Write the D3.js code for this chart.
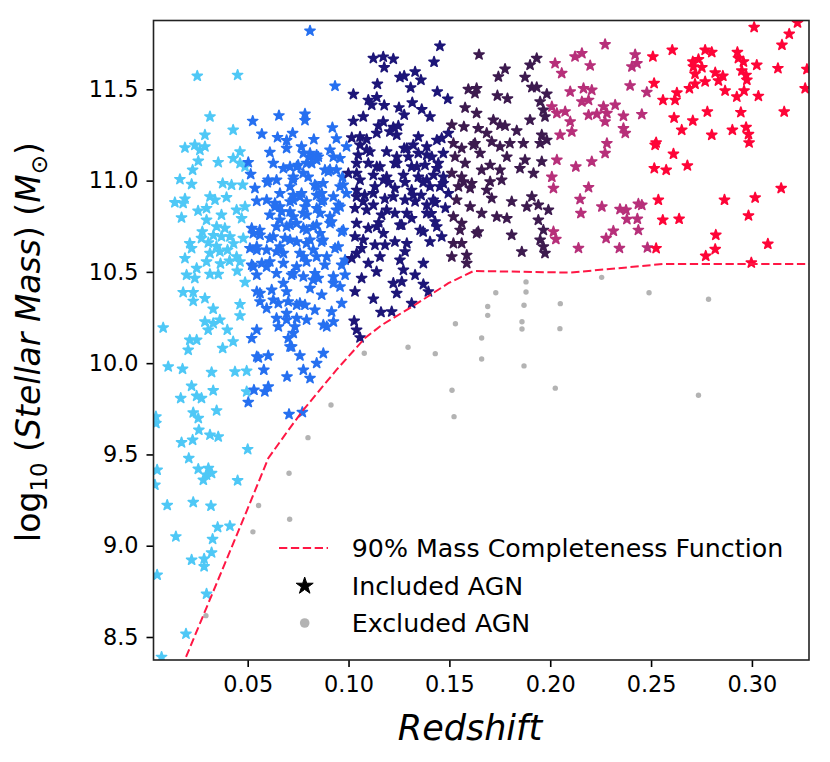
<!DOCTYPE html>
<html>
<head>
<meta charset="utf-8">
<script src="https://cdn.jsdelivr.net/npm/d3@7"></script>
<style>
  body { margin: 0; background: #fff; }
  text { font-family: "DejaVu Sans", sans-serif; }
</style>
</head>
<body>
<div id="chart"></div>
<script>
// Redshift bins, colours and tick values
var binColors = ["#4fc8f6", "#2670f0", "#1d1678", "#3d1b4f", "#b7307a", "#fe0538"];
var xTicks = [0.05, 0.10, 0.15, 0.20, 0.25, 0.30];
var yTicks = [8.5, 9.0, 9.5, 10.0, 10.5, 11.0, 11.5];

// Included AGN [redshift, log10 M*], one array per redshift bin
var bin0 = [[0.025,11.573],[0.045,11.578],[0.0313,11.35],[0.0428,11.277],[0.0288,11.25],[0.0189,11.18],[0.0238,11.195],[0.0288,11.186],[0.0263,11.167],[0.0462,11.158],[0.0354,11.10],[0.0255,11.107],[0.0428,11.122],[0.0462,11.095],[0.0227,11.058],[0.0164,11.007],[0.0222,10.98],[0.0376,10.985],[0.042,10.976],[0.0475,10.976],[0.0189,10.90],[0.0313,10.912],[0.0395,10.908],[0.0487,11.076],
  [0.0139,10.88],[0.018,10.876],[0.0172,10.797],[0.0254,10.834],[0.0296,10.848],[0.0338,10.894],[0.037,10.812],[0.0296,10.784],[0.0346,10.748],[0.0387,10.739],[0.0445,10.839],[0.0487,10.857],[0.047,10.793],[0.0412,10.693],[0.0478,10.684],[0.037,10.693],[0.0271,10.684],[0.0213,10.656],[0.0222,10.629],[0.0313,10.602],[0.0362,10.611],[0.0445,10.583],[0.0462,10.556],[0.0189,10.574],[0.0296,10.556],[0.0247,10.52],[0.0197,10.483],[0.0238,10.465],[0.0313,10.487],[0.0354,10.487],[0.0448,10.505],[0.0487,10.443],[0.018,10.388],[0.023,10.388],[0.023,10.34],[0.0288,10.355],[0.0462,10.322],[0.0329,10.297],[0.0462,10.26],[0.0081,10.194],[0.0288,10.227],[0.0329,10.218],[0.0362,10.237],[0.0304,10.182],[0.0399,10.182],[0.0213,10.127],[0.0247,10.127],[0.0205,10.072],[0.0428,10.118],[0.0376,10.082],[0.0106,9.981],[0.0177,9.968],[0.0321,9.95],[0.0437,9.953],[0.0495,9.957],
  [0.0305,10.66],[0.0345,10.64],[0.040,10.62],[0.043,10.655],[0.0275,10.72],[0.033,10.70],[0.041,10.56],[0.0365,10.545],
  [0.0222,9.875],[0.0168,9.808],[0.0247,9.82],[0.0271,9.808],[0.0329,9.85],[0.0495,9.844],[0.023,9.729],[0.0255,9.698],[0.0346,9.74],[0.0045,9.707],[0.0045,9.671],[0.0258,9.634],[0.0313,9.607],[0.0354,9.597],[0.0172,9.565],[0.0227,9.579],[0.05,9.528],[0.0208,9.479],[0.0255,9.42],[0.0305,9.424],[0.0296,9.388],[0.028,9.36],[0.0321,9.397],[0.0051,9.415],[0.004,9.333],[0.045,9.357],[0.0101,9.222],[0.023,9.238],[0.0318,9.218],[0.0351,9.101],[0.0412,9.108],[0.0144,9.05],[0.0326,9.036],[0.0321,8.962],[0.0222,8.922],[0.0284,8.928],[0.0284,8.886],[0.0051,8.84],[0.0296,8.736],[0.0194,8.517],[0.0073,8.39]];

var bin1 = [[0.0809,11.82],[0.0525,11.326],[0.0655,11.356],[0.0784,11.365],[0.0784,11.33],[0.057,11.255],[0.0648,11.237],[0.0723,11.26],[0.0693,11.22],[0.0828,11.226],[0.061,11.155],[0.0767,11.186],[0.0809,11.15],[0.0503,11.10],[0.0627,11.095],[0.0677,11.067],[0.0743,11.076],[0.0792,11.095],[0.0842,11.113],[0.0515,11.035],[0.0643,11.003],[0.0726,11.02],[0.0775,11.04],[0.0833,10.976],[0.0597,10.99],[0.0536,10.958],[0.0726,10.92],[0.0767,10.93],[0.0842,10.92],
  [0.0933,11.518],[0.092,11.29],[0.094,11.23],[0.099,11.186],[0.0925,11.13],[0.0908,11.06],[0.097,11.02],[0.0958,10.967],[0.099,10.93],[0.0958,10.857],[0.085,11.13],[0.090,11.05],[0.0867,10.93],
  [0.0545,10.888],[0.0635,10.876],[0.071,10.885],[0.0792,10.885],[0.0842,10.848],[0.061,10.812],[0.0668,10.83],[0.0726,10.802],[0.0792,10.812],[0.052,10.739],[0.0561,10.702],[0.0643,10.748],[0.071,10.757],[0.0776,10.739],[0.0842,10.757],[0.061,10.684],[0.0685,10.684],[0.0743,10.665],[0.0809,10.675],[0.0511,10.629],[0.0594,10.62],[0.0643,10.611],[0.0825,10.62],[0.052,10.538],[0.057,10.547],[0.0677,10.547],[0.0743,10.528],[0.0792,10.556],[0.0545,10.483],[0.0718,10.483],[0.0776,10.474],[0.0833,10.492],[0.0677,10.438],[0.0693,10.392],[0.0545,10.392],[0.0619,10.401],[0.0809,10.41],[0.0561,10.337],[0.0594,10.30],[0.0652,10.328],[0.0701,10.337],[0.0743,10.319],[0.0784,10.319],[0.0833,10.291],[0.0643,10.246],[0.0693,10.237],[0.0743,10.246],[0.0652,10.20],[0.0734,10.20],[0.0545,10.182],[0.052,10.136],[0.0701,10.136],[0.0718,10.09],[0.0759,10.041],[0.0553,10.03],[0.0602,10.041],[0.0842,10.0],[0.058,9.963],[0.0776,9.963],
  [0.0867,10.885],[0.095,10.866],[0.0916,10.775],[0.0966,10.72],[0.0867,10.665],[0.0933,10.629],[0.0883,10.538],[0.0966,10.538],[0.085,10.465],[0.0925,10.438],[0.0983,10.483],[0.0867,10.374],[0.0966,10.328],[0.0916,10.282],[0.0925,10.227],[0.0875,10.209],[0.0875,10.054],
  [0.0726,10.894],[0.0776,10.821],[0.0842,10.967],[0.0875,10.894],[0.0693,10.748],[0.0792,10.729],[0.0859,10.711],[0.0908,10.802],[0.066,10.638],[0.0759,10.602],[0.0842,10.583],[0.0528,10.711],[0.0545,10.638],[0.0594,10.528],[0.0726,10.492],[0.0825,10.456],[0.0925,10.474],[0.0561,10.383],[0.0627,10.346],[0.0759,10.328],[0.0693,10.273],[0.0792,10.237],[0.0892,10.20],[0.0545,10.036],[0.0809,9.917],[0.0726,10.164],[0.071,10.09],[0.0958,10.419],[0.0643,10.492],[0.0528,10.528],[0.071,10.967],[0.066,10.857],[0.0594,10.894],[0.0809,11.13],[0.071,11.076],
  [0.0693,11.177],[0.0776,11.15],[0.0842,11.14],[0.0908,11.168],[0.0958,11.122],[0.075,11.085],[0.0817,11.095],[0.0883,11.058],[0.094,11.058],[0.0601,11.003],[0.0726,11.003],[0.08,11.02],[0.0874,10.985],[0.0974,10.976],[0.066,10.93],[0.0759,10.912],[0.0925,10.912],[0.0635,10.857],[0.071,10.83],[0.0784,10.857],[0.0859,10.821],[0.094,10.839],[0.066,10.784],[0.0743,10.766],[0.0825,10.748],[0.0908,10.766],[0.0974,10.729],[0.056,10.729],[0.0627,10.693],[0.071,10.675],[0.0792,10.656],[0.0874,10.675],[0.0949,10.638],[0.0545,10.62],[0.0677,10.602],[0.0776,10.583],[0.0892,10.583],[0.061,10.556],[0.0983,10.565],
  [0.0695,9.926],[0.0531,9.853],[0.0585,9.844],[0.0602,9.871],[0.0503,9.786],[0.0705,9.72],[0.0771,9.731]];

var bin2 = [[0.1453,11.737],[0.1123,11.67],[0.1172,11.678],[0.1222,11.666],[0.1177,11.62],[0.1424,11.65],[0.1255,11.566],[0.1276,11.573],[0.133,11.596],[0.1359,11.551],[0.1143,11.529],[0.1308,11.509],[0.144,11.487],[0.1492,11.447],[0.1024,11.473],[0.1098,11.441],[0.114,11.456],[0.1177,11.412],[0.1115,11.414],[0.125,11.40],[0.1316,11.427],[0.1276,11.36],[0.1363,11.39],[0.1404,11.35],[0.1073,11.35],[0.1024,11.326],[0.1172,11.323],[0.1148,11.30],[0.1222,11.292],[0.1247,11.30],[0.1205,11.268],[0.114,11.26],[0.1016,11.235],[0.109,11.226],[0.1057,11.195],[0.1346,11.24],[0.1321,11.195],[0.1462,11.232],[0.1495,11.26],[0.1276,11.177],[0.1388,11.186],[0.1048,11.14],[0.1106,11.158],[0.1189,11.158],[0.1239,11.13],[0.1297,11.13],[0.1346,11.15],[0.1413,11.13],[0.147,11.15],[0.1098,11.095],[0.1156,11.076],[0.123,11.095],[0.1313,11.076],[0.1379,11.085],[0.1445,11.095],[0.0999,11.04],[0.104,11.04],[0.1123,11.03],[0.1189,11.02],[0.1272,11.03],[0.1346,11.02],[0.1421,11.03],[0.147,11.02],[0.104,10.948],[0.1131,10.967],[0.123,10.958],[0.1313,10.948],[0.1404,10.967],[0.1453,10.967],[0.1495,10.93],
  [0.1032,10.848],[0.1073,10.885],[0.1123,10.866],[0.1164,10.812],[0.123,10.821],[0.128,10.894],[0.133,10.885],[0.1388,10.866],[0.1429,10.775],[0.1313,10.793],[0.1264,10.757],[0.1462,10.693],[0.1032,10.693],[0.1098,10.739],[0.1173,10.711],[0.123,10.665],[0.1065,10.629],[0.1131,10.647],[0.1181,10.647],[0.128,10.611],[0.1016,10.574],[0.1098,10.547],[0.1139,10.501],[0.1065,10.465],[0.1222,10.438],[0.1264,10.446],[0.1272,10.51],[0.133,10.483],[0.1371,10.547],[0.1371,10.432],[0.1396,10.392],[0.1239,10.383],[0.1032,10.392],[0.1123,10.352],[0.1313,10.328],[0.1161,10.279],[0.1214,10.282],[0.1028,10.231],[0.104,10.182],[0.1057,10.14],
  [0.108,10.92],[0.118,10.90],[0.136,10.92],[0.143,10.88],[0.12,10.99],[0.128,10.99],[0.137,10.99],[0.148,10.85],[0.115,10.77],[0.137,10.72],[0.141,10.82],
  [0.1057,11.24],[0.1239,11.25],[0.1438,11.222],[0.109,11.168],[0.1289,11.177],[0.1388,11.14],[0.104,11.095],[0.114,11.076],[0.1239,11.095],[0.1339,11.076],[0.1438,11.067],[0.1057,11.003],[0.1173,11.003],[0.1388,11.003],[0.147,10.985],[0.104,10.912],[0.1123,10.93],[0.1222,10.912],[0.1321,10.92],[0.142,10.894],[0.109,10.839],[0.1189,10.839],[0.1289,10.821],[0.1388,10.821],[0.104,10.766],[0.114,10.748],[0.1255,10.757],[0.1355,10.729],[0.1438,10.748],[0.1073,10.675],[0.1289,10.656],[0.1404,10.665],[0.104,10.602],[0.1156,10.583],[0.1255,10.565]];

var bin3 = [[0.1647,11.69],[0.1594,11.50],[0.1635,11.505],[0.1627,11.478],[0.1578,11.399],[0.1635,11.369],[0.1512,11.305],[0.1572,11.295],[0.1643,11.286],[0.152,11.204],[0.1561,11.177],[0.1619,11.195],[0.1528,11.13],[0.1578,11.095],[0.1652,11.15],[0.1512,11.04],[0.1561,11.02],[0.1611,10.985],[0.166,11.058],[0.1545,10.967],
  [0.1776,11.611],[0.1743,11.569],[0.1933,11.67],[0.19,11.633],[0.1875,11.566],[0.1738,11.465],[0.1788,11.449],[0.1909,11.511],[0.1933,11.511],[0.1983,11.474],[0.195,11.432],[0.1966,11.387],[0.1974,11.35],[0.19,11.332],[0.1718,11.332],[0.1751,11.305],[0.1685,11.26],[0.1776,11.30],[0.1834,11.273],[0.1958,11.25],[0.1983,11.222],[0.195,11.204],[0.171,11.213],[0.1751,11.186],[0.18,11.204],[0.1867,11.204],[0.1627,11.204],[0.1785,11.13],[0.1875,11.113],[0.1958,11.104],[0.1702,11.085],[0.1751,11.058],[0.185,11.067],[0.1917,11.04],[0.157,10.994],[0.1702,10.994],[0.1759,11.003],[0.1603,10.958],[0.1685,10.948],[0.171,10.903],[0.1809,10.885],[0.1909,10.912],[0.1884,10.857],[0.1941,10.866],[0.1991,10.839],[0.1536,10.894],[0.1603,10.857],[0.166,10.821],[0.1735,10.802],[0.1785,10.793],[0.152,10.802],[0.1553,10.729],[0.1635,10.711],[0.1809,10.702],[0.1941,10.784],[0.1966,10.729],[0.195,10.675],[0.152,10.656],[0.1561,10.656],[0.1512,10.583],[0.1586,10.592],[0.1586,10.547],[0.1859,10.61],[0.1974,10.602],[0.1966,10.638],[0.1561,10.766],[0.1643,10.72]];

var bin4 = [[0.2272,11.746],[0.2123,11.679],[0.2157,11.697],[0.2198,11.63],[0.2024,11.642],[0.2057,11.588],[0.2421,11.69],[0.2405,11.624],[0.243,11.642],[0.2396,11.52],[0.2479,11.484],[0.2099,11.487],[0.2165,11.505],[0.2206,11.496],[0.2157,11.432],[0.219,11.441],[0.2008,11.405],[0.2033,11.369],[0.2074,11.378],[0.2264,11.405],[0.2322,11.414],[0.219,11.359],[0.2231,11.365],[0.2281,11.369],[0.2363,11.354],[0.2454,11.363],[0.2099,11.323],[0.2272,11.323],[0.2107,11.268],[0.2049,11.25],[0.2363,11.286],[0.2372,11.26],[0.2281,11.204],[0.2272,11.15],[0.2033,11.113],[0.2206,11.104],[0.2127,11.076],[0.2008,11.02],[0.2016,10.958],[0.219,10.963],[0.2148,10.898],[0.2256,10.857],[0.2152,10.821],[0.2346,10.843],[0.2376,10.839],[0.2437,10.872],[0.2454,10.866],[0.238,10.788],[0.2432,10.79],[0.2437,10.729],[0.2313,10.724],[0.2277,10.684],[0.2016,10.72],[0.2028,10.679],[0.214,10.63],[0.2343,10.63],[0.2482,10.633]];

var bin5 = [[0.3011,11.84],[0.3226,11.865],[0.3185,11.803],[0.3149,11.743],[0.2509,11.679],[0.2605,11.715],[0.2707,11.651],[0.2735,11.664],[0.2768,11.715],[0.2801,11.703],[0.271,11.624],[0.2752,11.62],[0.2928,11.703],[0.2933,11.67],[0.2958,11.651],[0.3024,11.633],[0.295,11.602],[0.2971,11.578],[0.2975,11.551],[0.3129,11.615],[0.3273,11.61],[0.2515,11.533],[0.2718,11.584],[0.2818,11.591],[0.2856,11.573],[0.2834,11.547],[0.2768,11.542],[0.2718,11.529],[0.269,11.505],[0.2628,11.481],[0.2867,11.492],[0.2961,11.492],[0.2925,11.459],[0.3032,11.463],[0.3264,11.505],[0.2559,11.441],[0.2619,11.441],[0.2779,11.377],[0.2945,11.374],[0.316,11.377],[0.2614,11.344],[0.2707,11.328],[0.2652,11.277],[0.2903,11.277],[0.2971,11.292],[0.2983,11.254],[0.2801,11.25],[0.2986,11.208],[0.252,11.195],[0.2525,11.208],[0.2611,11.146],[0.2516,11.067],[0.2575,11.058],[0.268,11.082],[0.3145,10.958],[0.3016,10.906],[0.2864,10.894],[0.2536,10.894],[0.2558,10.784],[0.2639,10.79],[0.2983,10.808],[0.2821,10.702],[0.3079,10.653],[0.2818,10.624],[0.2771,10.587],[0.2525,10.629],[0.2997,10.55]];

var includedBins = [bin0, bin1, bin2, bin3, bin4, bin5];

// Excluded AGN (below the completeness limit)
var excludedAGN = [[0.2255,10.47],[0.188,10.445],[0.188,10.39],[0.173,10.386],[0.249,10.386],[0.2785,10.35],[0.169,10.31],[0.187,10.317],[0.205,10.326],[0.169,10.262],[0.153,10.216],[0.186,10.227],[0.186,10.187],[0.2048,10.189],[0.166,10.138],[0.1295,10.087],[0.143,10.052],[0.166,10.023],[0.187,9.985],[0.1078,10.054],[0.1513,9.852],[0.1523,9.707],[0.2025,9.863],[0.2735,9.824],[0.0913,9.771],[0.0799,9.592],[0.0705,9.397],[0.0554,9.22],[0.0708,9.145],[0.0526,9.076],[0.0293,8.617]];

// 90% mass completeness function
var completenessZ = [0.015, 0.0194, 0.0495, 0.0602, 0.0693, 0.0776, 0.094, 0.108, 0.1165, 0.133, 0.1495, 0.162, 0.21, 0.256, 0.33];
var completenessM = [8.27, 8.39, 9.19, 9.479, 9.62, 9.744, 9.963, 10.136, 10.209, 10.32, 10.438, 10.505, 10.496, 10.543, 10.543];

var legendLabels = ["90% Mass Completeness Function", "Included AGN", "Excluded AGN"];

// Set up chart
var svgWidth = 830;
var svgHeight = 762;
var margin = { top: 20.5, right: 21, bottom: 102, left: 153.5 };
var width = svgWidth - margin.left - margin.right;
var height = svgHeight - margin.top - margin.bottom;

var svg = d3.select("#chart")
  .append("svg")
  .attr("width", svgWidth)
  .attr("height", svgHeight);

var chartGroup = svg.append("g")
  .attr("transform", `translate(${margin.left}, ${margin.top})`);

var xScale = d3.scaleLinear().domain([0.0033, 0.3283]).range([0, width]);
var yScale = d3.scaleLinear().domain([8.374, 11.877]).range([height, 0]);

chartGroup.append("clipPath").attr("id", "plotClip")
  .append("rect").attr("width", width).attr("height", height);

var plotArea = chartGroup.append("g").attr("clip-path", "url(#plotClip)");

// Included AGN as stars, one layer per redshift bin
var star = d3.symbol().type(d3.symbolStar).size(32);
includedBins.forEach(function(points, i) {
  plotArea.append("g")
    .selectAll("path")
    .data(points)
    .enter()
    .append("path")
    .attr("d", star)
    .attr("transform", d => `translate(${xScale(d[0])}, ${yScale(d[1])})`)
    .attr("fill", binColors[i])
    .attr("stroke", binColors[i])
    .attr("stroke-width", 1.6)
    .attr("stroke-linejoin", "round");
});

// Excluded AGN as grey dots
plotArea.append("g")
  .selectAll("circle")
  .data(excludedAGN)
  .enter()
  .append("circle")
  .attr("cx", d => xScale(d[0]))
  .attr("cy", d => yScale(d[1]))
  .attr("r", 2.7)
  .attr("fill", "#b3b3b3");

// Completeness curve
var completeness = completenessZ.map((z, i) => [z, completenessM[i]]);
plotArea.append("path")
  .datum(completeness)
  .attr("d", d3.line().x(d => xScale(d[0])).y(d => yScale(d[1])))
  .attr("fill", "none")
  .attr("stroke", "#ff1744")
  .attr("stroke-width", 2)
  .attr("stroke-dasharray", "8.3,3.6");

// Axes
var bottomAxis = d3.axisBottom(xScale).tickValues(xTicks).tickFormat(d3.format(".2f"))
  .tickSize(7).tickPadding(9);
var leftAxis = d3.axisLeft(yScale).tickValues(yTicks).tickFormat(d3.format(".1f"))
  .tickSize(7).tickPadding(8);

var xAxis = chartGroup.append("g")
  .attr("transform", `translate(0, ${height})`)
  .call(bottomAxis);
var yAxis = chartGroup.append("g").call(leftAxis);

[xAxis, yAxis].forEach(function(ax) {
  ax.select(".domain").remove();
  ax.selectAll("line").attr("stroke", "#000").attr("stroke-width", 1.6);
  ax.selectAll("text")
    .attr("fill", "#000")
    .style("font-family", "DejaVu Sans")
    .style("font-size", "22.4px");
});

// Frame
chartGroup.append("rect")
  .attr("width", width)
  .attr("height", height)
  .attr("fill", "none")
  .attr("stroke", "#222")
  .attr("stroke-width", 1.6);

// Axis labels
svg.append("text")
  .attr("x", 470)
  .attr("y", 740)
  .attr("text-anchor", "middle")
  .style("font-size", "35px")
  .style("font-style", "italic")
  .text("Redshift");

var yLabel = svg.append("text")
  .attr("transform", "translate(40, 342) rotate(-90)")
  .attr("text-anchor", "middle")
  .style("font-size", "33px");
yLabel.append("tspan").text("log");
yLabel.append("tspan").attr("dy", 7).style("font-size", "23px").text("10");
yLabel.append("tspan").attr("dy", -7).text(" (");
yLabel.append("tspan").style("font-style", "italic").text("Stellar Mass");
yLabel.append("tspan").text(") (");
yLabel.append("tspan").style("font-style", "italic").text("M");
yLabel.append("tspan").attr("dy", 7).style("font-size", "23px").text("\u2299");
yLabel.append("tspan").attr("dy", -7).text(")");

// Legend
var legend = svg.append("g");
var rowY = [548, 586, 623];

legend.append("line")
  .attr("x1", 279).attr("x2", 328)
  .attr("y1", rowY[0]).attr("y2", rowY[0])
  .attr("stroke", "#ff1744")
  .attr("stroke-width", 2)
  .attr("stroke-dasharray", "8.3,3.6");

legend.append("path")
  .attr("d", d3.symbol().type(d3.symbolStar).size(90))
  .attr("transform", `translate(304.7, ${rowY[1]})`)
  .attr("fill", "#000")
  .attr("stroke", "#000")
  .attr("stroke-width", 1)
  .attr("stroke-linejoin", "round");

legend.append("circle")
  .attr("cx", 304.7).attr("cy", rowY[2])
  .attr("r", 4.8)
  .attr("fill", "#b3b3b3");

legend.selectAll("text.legend")
  .data(legendLabels)
  .enter()
  .append("text")
  .attr("class", "legend")
  .attr("x", 351.7)
  .attr("y", (d, i) => rowY[i] + 8.7)
  .style("font-size", "25.3px")
  .text(d => d);
</script>
</body>
</html>
